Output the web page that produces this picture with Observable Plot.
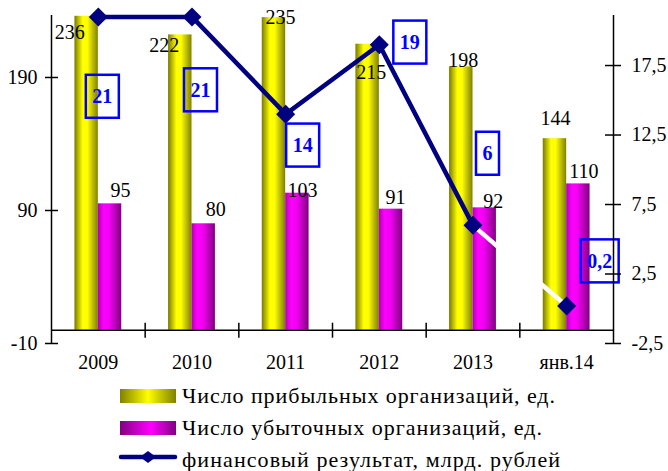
<!DOCTYPE html>
<html><head><meta charset="utf-8">
<script src="https://cdn.jsdelivr.net/npm/d3@7"></script>
<script src="https://cdn.jsdelivr.net/npm/@observablehq/plot@0.6"></script>
<style>
body{margin:0;background:#fff;font-family:"Liberation Serif","Times New Roman",serif;}
#chart svg, #legend svg{display:block;}
</style></head><body><div id="chart"></div><div id="legend"></div>
<script>
// ---- data ----
const categories = ["2009", "2010", "2011", "2012", "2013", "янв.14"];
const profitable = [236, 222, 235, 215, 198, 144];
const unprofitable = [95, 80, 103, 91, 92, 110];
const finResult = [21, 21, 14, 19, 6, 0.2];
const leftTicks = [-10, 90, 190];
const rightTicks = [-2.5, 2.5, 7.5, 12.5, 17.5];
const seriesNames = [
  "Число прибыльных организаций, ед.",
  "Число убыточных организаций, ед.",
  "финансовый результат, млрд. рублей"
];

// ---- layout: label nudges (px) copying the hand-placed labels ----
const profNudge = [[-17, 16], [-16, 11], [6.5, 0], [3.5, 28], [2, -6.5], [0.5, -20]];
const unprofNudge = [[10.5, -13], [12, -14], [5, -3], [4.5, -12], [8.5, -6.5], [5.5, -12]];
const finNudge = [[4, 80], [8.5, 73.5], [17, 31.5], [30.5, -2], [14.5, -71.5], [33, -44.5]];

const yMin = -10, yMax = 236.6;   // left axis
const rMin = -2.5, rMax = 21.1;   // right axis
const toLeft = v => yMin + (v - rMin) * (yMax - yMin) / (rMax - rMin);
const fmt = v => String(v).replace(".", ",");

const rows = categories.map((c, i) => ({
  i, cat: c, prof: profitable[i], unprof: unprofitable[i], fin: finResult[i], finL: toLeft(finResult[i])
}));

const FONT = "Liberation Serif, Times New Roman, serif";
const NAVY = "#000080";

const diamond = {
  draw(ctx, size) {
    const r = Math.sqrt(size / Math.PI);
    ctx.moveTo(0, -r); ctx.lineTo(r, 0); ctx.lineTo(0, r); ctx.lineTo(-r, 0); ctx.closePath();
  }
};

const plot = Plot.plot({
  width: 668,
  height: 380,
  marginLeft: 51,
  marginRight: 55,
  marginTop: 15,
  marginBottom: 37,
  style: {fontFamily: FONT, fontSize: "20px", background: "white", overflow: "visible"},
  x: {domain: [0, 6], axis: null},
  y: {domain: [yMin, yMax], axis: null},
  marks: [
    Plot.rect(rows, {x1: d => d.i + 0.25, x2: d => d.i + 0.5, y1: 0, y2: "prof", fill: "url(#gYellow)"}),
    Plot.rect(rows, {x1: d => d.i + 0.5, x2: d => d.i + 0.75, y1: 0, y2: "unprof", fill: "url(#gMagenta)"}),
    rows.map((d, k) => Plot.text([d], {
      x: d => d.i + 0.375, y: "prof", text: d => String(d.prof),
      dx: profNudge[k][0], dy: profNudge[k][1], fill: "black", fontSize: 20, fontFamily: FONT
    })),
    rows.map((d, k) => Plot.text([d], {
      x: d => d.i + 0.625, y: "unprof", text: d => String(d.unprof),
      dx: unprofNudge[k][0], dy: unprofNudge[k][1], fill: "black", fontSize: 20, fontFamily: FONT
    })),
    Plot.line(rows.slice(0, 5), {x: d => d.i + 0.5, y: "finL", stroke: NAVY, strokeWidth: 4.5}),
    Plot.line(rows.slice(4), {x: d => d.i + 0.5, y: "finL", stroke: "white", strokeWidth: 4.5}),
    Plot.dot(rows, {x: d => d.i + 0.5, y: "finL", symbol: diamond, r: 9.5, fill: NAVY, stroke: "none"}),
    rows.map((d, k) => Plot.text([d], {
      x: d => d.i + 0.5, y: "finL", text: d => fmt(d.fin),
      dx: finNudge[k][0], dy: finNudge[k][1], fill: "blue", fontWeight: "bold", fontSize: 20, fontFamily: FONT
    })),
    Plot.ruleY([0], {x1: 0, x2: 6, stroke: "black", strokeWidth: 1.5}),
    Plot.ruleX([0, 6], {y1: yMin, y2: yMax, stroke: "black", strokeWidth: 1.5}),
    Plot.ruleX([1, 2, 3, 4, 5], {y1: 0, y2: 0, insetTop: -7, insetBottom: -8, stroke: "black", strokeWidth: 1.5}),
    Plot.ruleY(leftTicks, {y: d => d, x1: 0, x2: 0, insetLeft: -6, insetRight: -7, stroke: "black", strokeWidth: 1.5}),
    Plot.ruleY(rightTicks, {y: toLeft, x1: 6, x2: 6, insetLeft: -8, insetRight: -8, stroke: "black", strokeWidth: 1.5}),
    Plot.text(leftTicks, {x: 0, y: d => d, text: d => fmt(d), textAnchor: "end", dx: -14, fill: "black", fontSize: 20, fontFamily: FONT}),
    Plot.text(rightTicks, {x: 6, y: toLeft, text: d => fmt(d), textAnchor: "start", dx: 18, fill: "black", fontSize: 20, fontFamily: FONT}),
    Plot.text(rows, {x: d => d.i + 0.5, y: yMin, text: "cat", dy: 19, fill: "black", fontSize: 20, fontFamily: FONT})
  ]
});

const svgSel = d3.select(plot);
const defs = svgSel.insert("defs", ":first-child");
function grad(defsSel, id, stops) {
  const g = defsSel.append("linearGradient").attr("id", id).attr("x1", "0%").attr("x2", "100%").attr("y1", "0%").attr("y2", "0%");
  stops.forEach(([o, c]) => g.append("stop").attr("offset", o).attr("stop-color", c));
}
grad(defs, "gYellow", [["0%", "#7a7a00"], ["35%", "#ffff00"], ["55%", "#ffff00"], ["100%", "#808000"]]);
grad(defs, "gMagenta", [["0%", "#b000b0"], ["25%", "#ff00ff"], ["50%", "#f000f0"], ["100%", "#800080"]]);

document.getElementById("chart").appendChild(plot);

// boxes around financial-result labels (transparent, blue border)
svgSel.selectAll("g[fill='blue'] text").each(function () {
  const bb = this.getBBox();
  const padX = 6.5;
  const r = document.createElementNS("http://www.w3.org/2000/svg", "rect");
  r.setAttribute("x", bb.x - padX);
  r.setAttribute("y", bb.y + bb.height / 2 - 21.5);
  r.setAttribute("width", bb.width + 2 * padX);
  r.setAttribute("height", 43);
  r.setAttribute("fill", "none");
  r.setAttribute("stroke", "#0000ff");
  r.setAttribute("stroke-width", 2.5);
  if (this.getAttribute("transform")) r.setAttribute("transform", this.getAttribute("transform"));
  this.parentNode.insertBefore(r, this);
});

// legend (below the chart)
const lg = d3.select("#legend").append("svg").attr("width", 668).attr("height", 91);
const ldefs = lg.append("defs");
grad(ldefs, "lgY", [["0%", "#808000"], ["50%", "#ffff00"], ["100%", "#808000"]]);
grad(ldefs, "lgM", [["0%", "#800080"], ["55%", "#ff00ff"], ["100%", "#800080"]]);
const baselines = [23, 55, 87];
const textWidths = [373, 360, 378];
lg.append("rect").attr("x", 120).attr("y", 9).attr("width", 56).attr("height", 14).attr("fill", "url(#lgY)");
lg.append("rect").attr("x", 120).attr("y", 41).attr("width", 56).attr("height", 14).attr("fill", "url(#lgM)");
lg.append("line").attr("x1", 121).attr("x2", 175).attr("y1", 77).attr("y2", 77)
  .attr("stroke", NAVY).attr("stroke-width", 4.5).attr("stroke-linecap", "round");
lg.append("path").attr("d", "M148,71 L156,77 L148,83 L140,77Z").attr("fill", NAVY);
seriesNames.forEach((name, k) => {
  lg.append("text").attr("x", 182).attr("y", baselines[k])
    .attr("font-family", FONT).attr("font-size", 22).attr("fill", "black")
    .attr("textLength", textWidths[k]).attr("lengthAdjust", "spacing")
    .text(name);
});
</script></body></html>
